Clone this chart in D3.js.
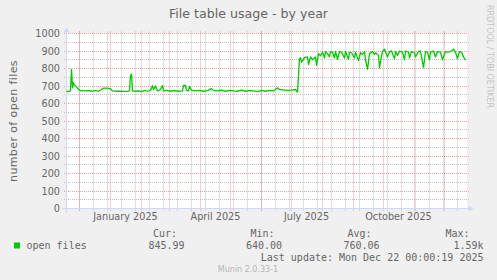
<!DOCTYPE html>
<html>
<head>
<meta charset="utf-8">
<script src="https://cdn.jsdelivr.net/npm/d3@7"></script>
<style>
  body { margin: 0; background: #F0F0F0; }
  text { font-family: "DejaVu Sans", sans-serif; fill: #666666; }
  .mono { font-family: "DejaVu Sans Mono", monospace; }
</style>
</head>
<body>
<svg id="canvas"></svg>
<script>
// munin "open_files" yearly graph, one value per day
const title = "File table usage - by year"
const yTitle = "number of open files"
const seriesName = "open files"

// days since the start of the 400 day window
const dayOffsets = [1, 3, 5, 6, 7, 8, 9, 11, 13, 15, 20, 23, 27, 30, 33, 36, 38, 42, 45, 47, 51, 55, 59, 63, 64, 65, 66, 67, 70, 73, 76, 79, 82, 85, 87, 88, 90, 92, 95, 97, 98, 101,
  105, 109, 113, 117, 118, 120, 121, 123, 124, 126, 130, 134, 138, 142, 146, 148, 152, 156, 160, 164, 168, 172, 176, 180, 184, 188, 192, 196, 200, 204,
  208, 212, 214, 218, 222, 226, 230, 232, 234, 235, 236, 239, 242, 243, 245, 247, 250, 251, 253, 255, 257, 259, 260, 262, 264, 265, 267, 269, 270, 272, 274, 276, 279, 280, 283, 284, 286, 289, 290, 293, 295, 297, 299, 300, 302, 304,
  307, 309, 310, 313, 314, 315, 317, 319, 320, 322, 324, 326, 329, 330, 332, 334, 337, 339, 340, 343, 344, 346, 349, 350, 353, 355, 358, 360, 362, 364, 365, 368, 370, 372, 375, 377, 380, 382, 385, 388, 390, 392, 394, 396, 398, 400]
const openFiles = [670, 668, 672, 795, 690, 719, 705, 695, 680, 673, 672, 674, 670, 675, 670, 680, 688, 688, 684, 672, 670, 670, 669, 670, 675, 760, 767, 672, 670, 672, 668, 675, 670, 675, 702, 680, 700, 672, 680, 702, 672, 675,
  670, 674, 670, 672, 704, 704, 675, 672, 698, 676, 672, 675, 670, 674, 685, 675, 672, 676, 670, 675, 672, 670, 676, 670, 674, 672, 668, 675, 670, 675,
  672, 690, 680, 678, 675, 676, 680, 665, 856, 862, 837, 862, 866, 822, 866, 850, 866, 818, 885, 872, 894, 860, 897, 885, 866, 897, 894, 860, 897, 852, 897, 894, 860, 897, 852, 894, 890, 860, 894, 845, 890, 880, 897, 850, 795, 885,
  897, 880, 890, 875, 803, 840, 897, 910, 894, 866, 897, 900, 855, 897, 875, 900, 894, 850, 900, 894, 860, 897, 890, 866, 897, 900, 805, 897, 894, 850, 894, 900, 866, 897, 894, 850, 897, 894, 897, 910, 894, 856, 897, 894, 866, 847]

const xLabels = ["January 2025", "April 2025", "July 2025", "October 2025"]
const xLabelMonths = [new Date(2025, 0, 1), new Date(2025, 3, 1), new Date(2025, 6, 1), new Date(2025, 9, 1)]

const statLabels = ["Cur:", "Min:", "Avg:", "Max:"]
const statValues = ["845.99", "640.00", "760.06", "1.59k"]
const lastUpdate = "Last update: Mon Dec 22 00:00:19 2025"

const windowEnd = new Date(2025, 11, 22, 0, 0, 19)
const windowStart = d3.timeDay.offset(windowEnd, -400)
const dayToDate = (d) => d3.timeDay.offset(windowStart, d)

const width = 497
const height = 280
const x0 = 66.5, x1 = 466.5, y0 = 208.5, y1 = 33.5

let canvas = d3.select("#canvas")
canvas.attr('width', width).attr('height', height)

let xScale = d3.scaleTime().domain([windowStart, windowEnd]).range([65.5, 465.5])
let yScale = d3.scaleLinear().domain([0, 1000]).range([y0, y1])

let crisp = (v) => Math.floor(v) + 0.5

let drawGrid = () => {
    canvas.append('rect')
        .attr('x', 66).attr('y', 33)
        .attr('width', 401).attr('height', 176)
        .attr('fill', '#ffffff')

    let g = canvas.append('g')

    // minor: every other sunday, major: first of month
    let sundays = d3.timeSunday.range(windowStart, windowEnd)
    let firstMinor = sundays.findIndex(d => d >= new Date(2024, 11, 15))
    let minorX = sundays.filter((d, i) => i >= firstMinor && (i - firstMinor) % 2 === 0)
    minorX = minorX.concat(sundays.filter((d, i) => i < firstMinor && (firstMinor - i) % 2 === 0))
    let months = d3.timeMonth.range(windowStart, windowEnd)

    let vline = (d, color) => {
        let x = crisp(xScale(d))
        g.append('line').attr('x1', x).attr('x2', x).attr('y1', y1 - 2).attr('y2', y0 + 2)
            .attr('stroke', color).attr('stroke-dasharray', '1,1')
    }
    let hline = (v, color) => {
        let y = crisp(yScale(v))
        g.append('line').attr('x1', x0 - 2.5).attr('x2', x1 + 2).attr('y1', y).attr('y2', y)
            .attr('stroke', color).attr('stroke-dasharray', '1,1')
    }

    minorX.forEach(d => vline(d, 'rgba(143,143,143,0.55)'))
    d3.range(50, 1000, 100).forEach(v => hline(v, 'rgba(143,143,143,0.55)'))
    months.forEach(d => vline(d, 'rgba(222,79,79,0.55)'))
    d3.range(100, 1001, 100).forEach(v => hline(v, 'rgba(222,79,79,0.55)'))
}

let drawAxes = () => {
    let axisColor = '#CFD6F8'
    canvas.append('line').attr('x1', x0 - 4).attr('x2', x1 + 4).attr('y1', y0).attr('y2', y0)
        .attr('stroke', axisColor)
    canvas.append('line').attr('x1', x0).attr('x2', x0).attr('y1', y0 + 4).attr('y2', y1 - 4)
        .attr('stroke', axisColor)
    canvas.append('path')
        .attr('d', `M${x1 + 2},${y0 - 3}L${x1 + 2},${y0 + 3}L${x1 + 7},${y0}Z`)
        .attr('fill', axisColor)
    canvas.append('path')
        .attr('d', `M${x0 - 3},${y1 - 1}L${x0 + 3},${y1 - 1}L${x0},${y1 - 6}Z`)
        .attr('fill', axisColor)

    // y labels
    canvas.append('g').selectAll('text')
        .data(yScale.ticks(10))
        .enter()
        .append('text')
        .attr('x', 60)
        .attr('y', d => yScale(d) + 3.5)
        .attr('text-anchor', 'end')
        .style('font-size', '9.7px')
        .text(d => d)

    // x labels sit half a month after the month start
    canvas.append('g').selectAll('text')
        .data(xLabels)
        .enter()
        .append('text')
        .attr('x', (d, i) => xScale(d3.timeDay.offset(xLabelMonths[i], 15)))
        .attr('y', 219.5)
        .attr('text-anchor', 'middle')
        .style('font-size', '9.7px')
        .text(d => d)
}

let drawLine = () => {
    let points = dayOffsets.map((d, i) => [dayToDate(d), openFiles[i]])
    let line = d3.line()
        .x(p => xScale(p[0]))
        .y(p => yScale(p[1]))
    canvas.append('path')
        .datum(points)
        .attr('d', line)
        .attr('fill', 'none')
        .attr('stroke', '#00CC00')
        .attr('stroke-width', 1.3)
        .attr('stroke-linejoin', 'round')
}

let drawTexts = () => {
    canvas.append('text')
        .attr('x', 248.5).attr('y', 18)
        .attr('text-anchor', 'middle')
        .style('font-size', '12.6px')
        .text(title)

    canvas.append('text')
        .attr('transform', `translate(17,${(y0 + y1) / 2}) rotate(-90)`)
        .attr('text-anchor', 'middle')
        .style('font-size', '11px')
        .style('letter-spacing', '0.4px')
        .text(yTitle)

    canvas.append('text')
        .attr('transform', 'translate(487,5) rotate(90)')
        .style('font-size', '8px')
        .style('fill', '#c4c4c4')
        .text("RRDTOOL / TOBI OETIKER")

    // legend
    canvas.append('rect')
        .attr('x', 14).attr('y', 242.5)
        .attr('width', 6).attr('height', 6)
        .attr('fill', '#00CC00')
    canvas.append('text').attr('class', 'mono')
        .attr('x', 26.5).attr('y', 249.3)
        .style('font-size', '10px')
        .text(seriesName)

    let labelRight = [177, 274.5, 371.5, 469.5]
    let valueRight = [184.5, 282, 379.5, 483.5]
    statLabels.forEach((s, i) => {
        canvas.append('text').attr('class', 'mono')
            .attr('x', labelRight[i]).attr('y', 237.3)
            .attr('text-anchor', 'end')
            .style('font-size', '10px')
            .text(s)
        canvas.append('text').attr('class', 'mono')
            .attr('x', valueRight[i]).attr('y', 249.3)
            .attr('text-anchor', 'end')
            .style('font-size', '10px')
            .text(statValues[i])
    })
    canvas.append('text').attr('class', 'mono')
        .attr('x', 483.5).attr('y', 260.6)
        .attr('text-anchor', 'end')
        .style('font-size', '10px')
        .text(lastUpdate)

    canvas.append('text')
        .attr('x', 248).attr('y', 272.3)
        .attr('text-anchor', 'middle')
        .style('font-size', '8px')
        .style('fill', '#b4b4b4')
        .text("Munin 2.0.33-1")
}

drawGrid()
drawAxes()
drawLine()
drawTexts()
</script>
</body>
</html>
